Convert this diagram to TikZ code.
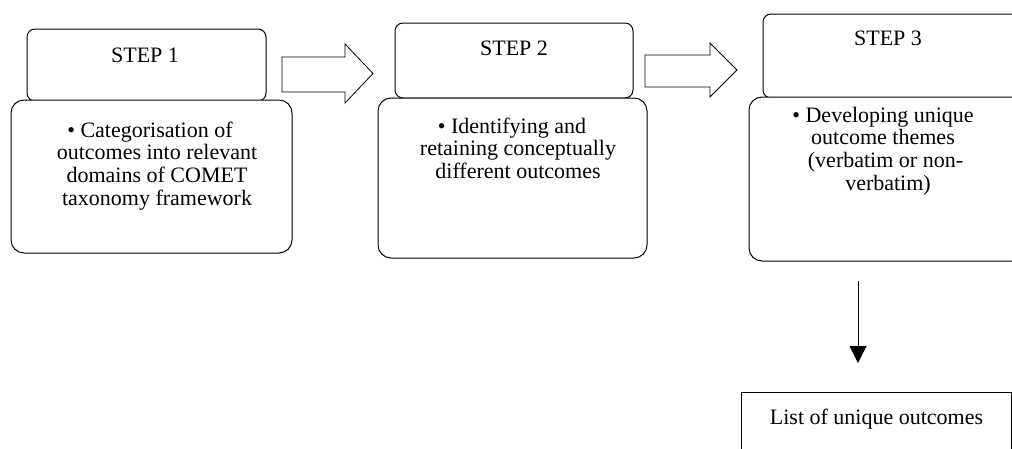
\documentclass[tikz,border=0pt]{standalone}
\usepackage{fontspec}
\setmainfont{Liberation Serif}
\usetikzlibrary{arrows.meta}
\begin{document}
\begin{tikzpicture}[x=1pt,y=-1pt,
  every node/.style={font=\fontsize{22}{22.6}\selectfont, inner sep=0pt},
  headbox/.style={draw, line width=1pt, rounded corners=8pt},
  bodybox/.style={draw, line width=1pt, rounded corners=13pt, fill=white},
  txt/.style={align=center, anchor=base},
  blockarrow/.style={draw, line width=0.8pt, line join=miter},
  listbox/.style={draw, line width=1pt}]
\useasboundingbox (0,0) rectangle (1012,448);
\clip (0,0) rectangle (1012,448);
% headers
\node[headbox, minimum width=239pt, minimum height=72pt] (h1) at (146.5,65) {};
\node[headbox, minimum width=238pt, minimum height=75pt] (h2) at (514,60.5) {};
\node[headbox, minimum width=260pt, minimum height=84pt] (h3) at (893,56) {};
% bodies
\node[bodybox, minimum width=281pt, minimum height=153pt] (b1) at (151.5,176.5) {};
\node[bodybox, minimum width=269pt, minimum height=160pt] (b2) at (512.5,178) {};
\node[bodybox, minimum width=276pt, minimum height=164pt] (b3) at (887,179) {};
% header texts
\node[txt] (t1) at (145,62) {STEP 1};
\node[txt] (t2) at (514,55) {STEP 2};
\node[txt] (t3) at (888,45) {STEP 3};
% body texts
\node[txt] (d1) at (157,205) {• Categorisation of\hspace*{14pt}\\outcomes into relevant\\domains of COMET\\taxonomy framework};
\node[txt] (d2) at (518,178.3) {• Identifying and\hspace*{12pt}\\retaining conceptually\\different outcomes};
\node[txt] (d3) at (883,190) {• Developing unique\\outcome themes\\\hspace*{5pt}(verbatim or non-\\\hspace*{10pt}verbatim)};
% block arrows
\draw[blockarrow] (282,57) -- (345,57) -- (345,44) -- (373,73.5) -- (345,103) -- (345,92) -- (282,92) -- cycle;
\draw[blockarrow] (645,55) -- (710,55) -- (710,43) -- (737,70) -- (710,97) -- (710,87) -- (645,87) -- cycle;
% list box
\node[listbox, minimum width=270.5pt, minimum height=90pt] (l) at (876.5,437) {};
\node[txt] (lt) at (876.5,424.3) {List of unique outcomes};
% down arrow
\coordinate (ds) at (858,281);
\coordinate (de) at (858,363);
\draw[line width=1pt, -{Triangle[width=17pt,length=17pt]}] (ds) -- (de);
\end{tikzpicture}
\end{document}
